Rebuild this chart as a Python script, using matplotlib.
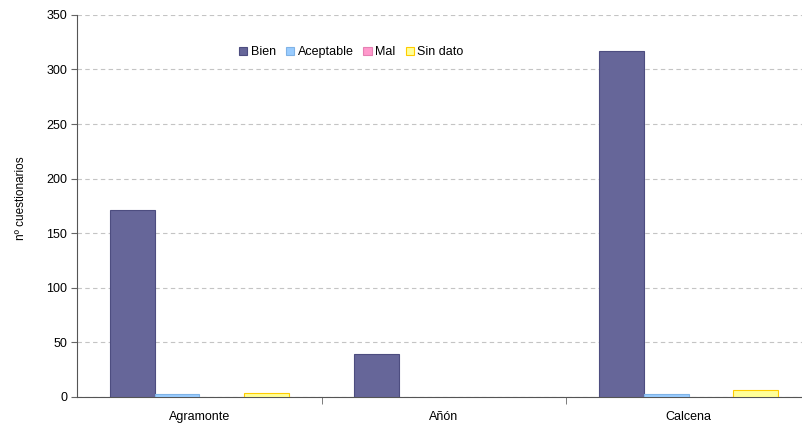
import numpy as np
import matplotlib.pyplot as plt

plt.rcParams['font.family'] = ['Liberation Sans', 'DejaVu Sans']

municipios = ["Agramonte", "Añón", "Calcena"]
series = ["Bien", "Aceptable", "Mal", "Sin dato"]
bien = [171, 39, 317]
aceptable = [3, 0, 3]
mal = [0, 0, 0]
sin_dato = [4, 0, 6]

valores = [bien, aceptable, mal, sin_dato]
colores = ["#666699", "#99CCFF", "#FF99CC", "#FFFF99"]
bordes = ["#4d4d80", "#80b3e6", "#e680b3", "#FFCC00"]

fig = plt.figure(figsize=(8.02, 4.25), dpi=100)
# el eje sigue un poco más allá del borde derecho, como en el original
ax = fig.add_axes([0.096, 0.066, 0.915, 0.899])

x = np.arange(len(municipios))
w = 0.183
for i, (nombre, vals) in enumerate(zip(series, valores)):
    lw = [0.8 if v > 0 else 0 for v in vals]
    ax.bar(x + (i - 1.5) * w, vals, w, color=colores[i], edgecolor=bordes[i],
           linewidth=lw, label=nombre, zorder=3)

ax.set_xlim(-0.5, len(municipios) - 0.5)
ax.set_ylim(0, 350)
ax.set_yticks(range(0, 351, 50))
ax.set_xticks(x)
ax.set_xticklabels(municipios, fontsize=9)
ax.set_xticks(np.arange(0.5, len(municipios) - 1, 1), minor=True)
ax.tick_params(axis='x', which='major', length=0, pad=10)
ax.tick_params(axis='x', which='minor', length=5, color='#666666')
ax.tick_params(axis='y', labelsize=9, length=4, color='#666666', pad=3)
ax.yaxis.grid(True, linestyle=(0, (4, 3)), color='#c4c4c4', linewidth=0.8, zorder=0)

for s in ['top', 'right']:
    ax.spines[s].set_visible(False)
ax.spines['left'].set_color('#555555')
ax.spines['bottom'].set_color('#555555')

ax.set_ylabel("nº cuestionarios", fontsize=8.5)
ax.yaxis.set_label_coords(-0.0675, 0.52)

leg = ax.legend(loc='upper left', bbox_to_anchor=(0.205, 0.947), ncol=4, frameon=False,
                fontsize=9, handlelength=0.65, handleheight=0.65, handletextpad=0.3,
                columnspacing=0.8)
for h in leg.legend_handles:
    h.set_linewidth(0.8)

fig.savefig("out.png", dpi=100)
